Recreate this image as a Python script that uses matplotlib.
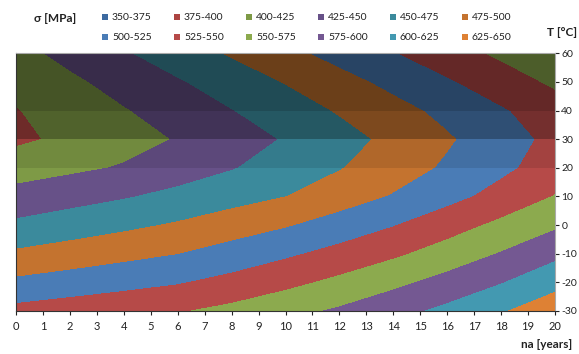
import matplotlib.pyplot as plt
from matplotlib.patches import Rectangle
import numpy as np

plt.rcParams['font.family'] = ['Lato', 'DejaVu Sans']
plt.rcParams['axes.unicode_minus'] = False

# stress grid: rows = temperature, columns = years
na_years = [0, 2, 4, 6, 8, 10, 12, 14, 16, 18, 20]
temp_c = [-30, -20, -10, 0, 10, 20, 30, 40, 50, 60]

sigma_m30 = [532.1, 537.4, 542.6, 547.9, 556.4, 567.0, 578.3, 591.4, 605.8, 622.5, 640.0]
sigma_m20 = [504.7, 510.8, 516.8, 522.9, 532.2, 543.3, 555.4, 568.9, 583.3, 598.5, 617.0]
sigma_m10 = [478.8, 485.6, 492.5, 499.3, 509.8, 520.7, 532.7, 545.5, 560.3, 576.3, 593.5]
sigma_0 = [454.7, 462.1, 469.5, 477.5, 487.5, 497.5, 510.1, 523.6, 539.3, 555.2, 571.0]
sigma_10 = [433.2, 440.5, 447.8, 456.4, 465.5, 474.6, 487.9, 501.5, 516.9, 533.3, 550.9]
sigma_20 = [414.0, 420.0, 426.9, 437.7, 448.4, 460.8, 473.5, 488.1, 503.3, 519.5, 536.2]
sigma_30 = [395.0, 405.3, 415.7, 426.3, 438.9, 451.6, 465.9, 480.8, 496.8, 513.9, 531.4]
sigma_40 = [398.8, 411.0, 423.2, 436.1, 449.1, 463.0, 477.0, 491.4, 506.3, 522.2, 538.1]
sigma_50 = [406.4, 420.1, 433.8, 447.5, 461.7, 476.0, 491.0, 506.3, 521.9, 537.9, 554.0]
sigma_60 = [417.0, 432.2, 447.3, 462.3, 477.5, 492.8, 508.2, 523.5, 538.9, 554.2, 569.5]

levels = [350, 375, 400, 425, 450, 475, 500, 525, 550, 575, 600, 625, 650]
level_labels = ['350-375', '375-400', '400-425', '425-450', '450-475', '475-500',
                '500-525', '525-550', '550-575', '575-600', '600-625', '625-650']
band_colors = ['#3C6AA0', '#AC4441', '#7E9A46', '#675188', '#3B8A9C', '#C4732F',
               '#4A7CB6', '#B64A48', '#8CAA4E', '#745892', '#4399B1', '#DE8134']

sigma = np.array([sigma_m30, sigma_m20, sigma_m10, sigma_0, sigma_10,
                  sigma_20, sigma_30, sigma_40, sigma_50, sigma_60])

fig = plt.figure(figsize=(5.79, 3.54), dpi=100)
ax = fig.add_axes([16 / 579, 1 - 311 / 354, 539 / 579, (311 - 53.3) / 354])

ax.contourf(na_years, temp_c, sigma, levels=levels, colors=band_colors)

# darker lighting on the upper part of the surface
ax.axhspan(40, 60, color='black', alpha=0.45, lw=0)
ax.axhspan(30, 40, color='black', alpha=0.36, lw=0)
ax.axhspan(20, 30, color='black', alpha=0.10, lw=0)

ax.set_xlim(0, 20)
ax.set_ylim(-30, 60)
ax.set_xticks(range(0, 21))
ax.set_yticks(range(-30, 61, 10))
ax.yaxis.tick_right()
ax.tick_params(axis='x', labelsize=8, colors='#222222', length=3, width=0.8, pad=4)
ax.tick_params(axis='y', labelsize=7.5, colors='#222222', length=3, width=0.8, pad=1.5)
for s in ['top', 'right']:
    ax.spines[s].set_color('#aaaaaa')
    ax.spines[s].set_linewidth(0.8)
ax.spines['left'].set_color('#333333')
ax.spines['bottom'].set_color('#333333')

fig.text(547 / 579, 1 - 345 / 354, 'na [years]', fontsize=8.5, fontweight='bold',
         color='#222222', ha='center', va='center')
fig.text(562 / 579, 1 - 32 / 354, 'T [°C]', fontsize=8.5, fontweight='bold',
         color='#222222', ha='center', va='center')
fig.text(55 / 579, 1 - 18 / 354, 'σ [MPa]', fontsize=8.5, fontweight='bold',
         color='#222222', ha='center', va='center')

# legend, 2 rows x 6 columns
for i, (lab, col) in enumerate(zip(level_labels, band_colors)):
    r, c = divmod(i, 6)
    x0 = 102 + c * 72
    yc = 17 + r * 20
    fig.add_artist(Rectangle((x0 / 579, 1 - (yc + 3) / 354), 6 / 579, 6 / 354,
                             transform=fig.transFigure, color=col, lw=0))
    fig.text((x0 + 10) / 579, 1 - yc / 354, lab, fontsize=7.5, color='#222222',
             ha='left', va='center')

fig.savefig('out.png', dpi=100)
